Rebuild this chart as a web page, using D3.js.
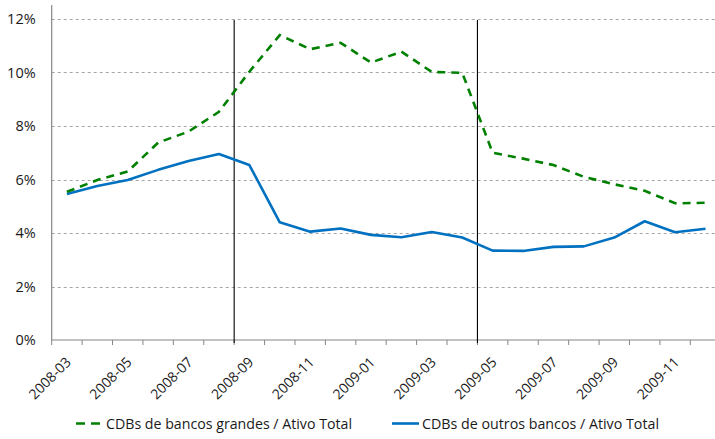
<!DOCTYPE html>
<html>
<head>
<meta charset="utf-8">
<script src="https://cdn.jsdelivr.net/npm/d3@7"></script>
<style>
  html, body { margin: 0; padding: 0; background: #fff; }
  svg { display: block; font-family: "Open Sans", "Liberation Sans", sans-serif; }
</style>
</head>
<body>
<svg id="chart" width="715" height="439"></svg>
<script>
// Monthly categories
const months = ["2008-03","2008-04","2008-05","2008-06","2008-07","2008-08","2008-09","2008-10",
  "2008-11","2008-12","2009-01","2009-02","2009-03","2009-04","2009-05","2009-06",
  "2009-07","2009-08","2009-09","2009-10","2009-11","2009-12"];

// CDBs de bancos grandes / Ativo Total (%)
const bancosGrandes = [5.54, 5.98, 6.30, 7.38, 7.79, 8.53, 10.03, 11.40, 10.87, 11.11, 10.37, 10.78,
  10.02, 9.99, 7.00, 6.78, 6.54, 6.10, 5.82, 5.58, 5.11, 5.13];

// CDBs de outros bancos / Ativo Total (%)
const outrosBancos = [5.46, 5.76, 5.98, 6.36, 6.69, 6.95, 6.54, 4.40, 4.05, 4.17, 3.93, 3.84,
  4.04, 3.83, 3.34, 3.33, 3.48, 3.50, 3.83, 4.44, 4.03, 4.16];

const yTicks = [0, 2, 4, 6, 8, 10, 12];
const xLabels = ["2008-03","2008-05","2008-07","2008-09","2008-11","2009-01","2009-03",
  "2009-05","2009-07","2009-09","2009-11"];
// Months marked with a vertical reference line (drawn at the left edge of the month)
const markers = ["2008-09", "2009-05"];

const seriesNames = ["CDBs de bancos grandes / Ativo Total", "CDBs de outros bancos / Ativo Total"];

const svg = d3.select("#chart");
const plotLeft = 51.7, step = 30.41, plotBottom = 340, plotTop = 19;

const x = d3.scaleBand().domain(months).range([plotLeft, plotLeft + step * months.length]).padding(0);
const y = d3.scaleLinear().domain([0, 12]).range([plotBottom, plotTop]);
const cx = m => x(m) + x.bandwidth() / 2;

// horizontal gridlines
svg.append("g").selectAll("line")
  .data(yTicks.filter(d => d > 0))
  .join("line")
  .attr("x1", plotLeft).attr("x2", 715)
  .attr("y1", d => Math.round(y(d)) + 0.5).attr("y2", d => Math.round(y(d)) + 0.5)
  .attr("stroke", "#a6a6a6").attr("stroke-width", 1).attr("stroke-dasharray", "3,3");

// y axis
const yAxis = d3.axisLeft(y).tickValues(yTicks).tickSize(0).tickPadding(16)
  .tickFormat(d => d + "%");
const gy = svg.append("g").attr("transform", `translate(${plotLeft},0)`).call(yAxis);
gy.select(".domain").remove();
gy.selectAll("text").attr("font-size", 14.5).attr("fill", "#1a1a1a")
  .attr("font-family", "Open Sans, sans-serif");
svg.append("line").attr("x1", plotLeft).attr("x2", plotLeft).attr("y1", 5).attr("y2", plotBottom)
  .attr("stroke", "#868686").attr("stroke-width", 1.2);

// x axis: tick marks at category boundaries
const gx = svg.append("g");
gx.append("line").attr("x1", plotLeft).attr("x2", 715).attr("y1", plotBottom).attr("y2", plotBottom)
  .attr("stroke", "#868686").attr("stroke-width", 1.2);
gx.selectAll("line.tick")
  .data(months.concat(["end"]))
  .join("line").attr("class", "tick")
  .attr("x1", (d, i) => plotLeft + i * x.step()).attr("x2", (d, i) => plotLeft + i * x.step())
  .attr("y1", plotBottom).attr("y2", plotBottom + 5)
  .attr("stroke", "#868686").attr("stroke-width", 1);
gx.selectAll("text")
  .data(xLabels)
  .join("text")
  .attr("transform", d => `translate(${cx(d) + 5},${plotBottom + 23}) rotate(-45)`)
  .attr("text-anchor", "end")
  .attr("font-size", 14)
  .attr("fill", "#1a1a1a")
  .text(d => d);

// vertical reference lines
svg.append("g").selectAll("line")
  .data(markers)
  .join("line")
  .attr("x1", d => x(d)).attr("x2", d => x(d))
  .attr("y1", 20).attr("y2", plotBottom + 3)
  .attr("stroke", "#000").attr("stroke-width", 1.1);

// series lines
const line = d3.line().x((d, i) => cx(months[i])).y(d => y(d));
svg.append("path").datum(outrosBancos)
  .attr("d", line).attr("fill", "none")
  .attr("stroke", "#0070c0").attr("stroke-width", 2.6).attr("stroke-linejoin", "round");
svg.append("path").datum(bancosGrandes)
  .attr("d", line).attr("fill", "none")
  .attr("stroke", "#008000").attr("stroke-width", 2.6).attr("stroke-dasharray", "8,6");

// legend
const lg = svg.append("g");
lg.append("line").attr("x1", 76).attr("x2", 100).attr("y1", 423.5).attr("y2", 423.5)
  .attr("stroke", "#008000").attr("stroke-width", 2.6).attr("stroke-dasharray", "9,6");
lg.append("text").attr("x", 106).attr("y", 428.5).attr("font-size", 14.5).attr("fill", "#1a1a1a")
  .attr("textLength", 246).attr("lengthAdjust", "spacingAndGlyphs").text(seriesNames[0]);
lg.append("line").attr("x1", 392).attr("x2", 419).attr("y1", 423.5).attr("y2", 423.5)
  .attr("stroke", "#0070c0").attr("stroke-width", 2.6);
lg.append("text").attr("x", 422).attr("y", 428.5).attr("font-size", 14.5).attr("fill", "#1a1a1a")
  .attr("textLength", 237).attr("lengthAdjust", "spacingAndGlyphs").text(seriesNames[1]);
</script>
</body>
</html>
